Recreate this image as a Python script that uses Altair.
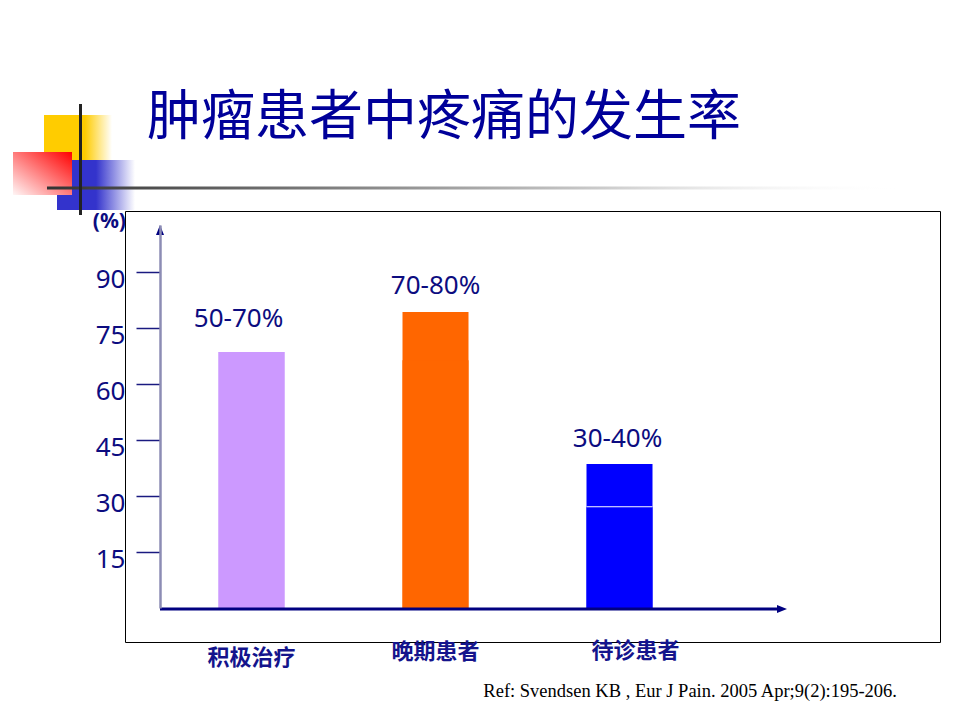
import altair as alt
import pandas as pd

# ---------------- data ----------------
categories = ["积极治疗", "晚期患者", "待诊患者"]
lower_values = [68.6, 66.4, 27.1]   # top of lower stacked segment (%)
upper_values = [68.6, 79.3, 38.6]   # top of bar (%)
range_labels = ["50-70%", "70-80%", "30-40%"]
bar_colors = ["#CC99FF", "#FF6600", "#0000FF"]
y_ticks = [15, 30, 45, 60, 75, 90]
title_text = "肿瘤患者中疼痛的发生率"
unit_text = "(%)"
ref_text = "Ref: Svendsen KB , Eur J Pain. 2005 Apr;9(2):195-206."

df = pd.DataFrame({
    "category": categories,
    "lower": lower_values,
    "upper": upper_values,
    "label": range_labels,
})

NAVY = "#0C0C80"
W, H = 627, 383          # plot area
OX, OY = 160, 225        # page position of plot origin


def X(p):
    return alt.value(p - OX)


def Y(p):
    return alt.value(p - OY)


one = alt.Data(values=[{"k": 1}])


def grad(stops, x1=0, y1=0, x2=1, y2=0):
    return alt.LinearGradient(
        gradient="linear",
        stops=[alt.GradientStop(color=c, offset=o) for o, c in stops],
        x1=x1, y1=y1, x2=x2, y2=y2,
    )


x_enc = alt.X(
    "category:N", sort=categories,
    scale=alt.Scale(domain=categories, range=[45.5, 505.5], paddingInner=0.5, paddingOuter=0),
    axis=None,
)
y_scale = alt.Scale(domain=[0, 102.6], nice=False)
y_axis = alt.Axis(
    values=y_ticks, grid=False, title="", zindex=2,
    tickSize=24, tickColor="#1A1A80", tickWidth=1.5,
    domainColor="#8C8CB4", domainWidth=2.5,
    labelFont="Noto Sans", labelFontSize=26, labelColor=NAVY,
    labelPadding=11, labelOffset=7, labelFlush=False, labelOverlap=False,
)


def yq(field):
    return alt.Y(field, type="quantitative", scale=y_scale, axis=y_axis, title="")


# ---------------- decorations ----------------
box = alt.Chart(one).mark_rect(fill="white", stroke="black", strokeWidth=1).encode(
    x=X(125.5), x2=X(940.5), y=Y(211.5), y2=Y(642.5))

yellow = alt.Chart(one).mark_rect(
    fill=grad([(0, "#FFCC00"), (0.6, "#FFCC00"), (1, "rgba(255,204,0,0)")])
).encode(x=X(44), x2=X(112), y=Y(115), y2=Y(160))

blue_sq = alt.Chart(one).mark_rect(
    fill=grad([(0, "#3333CC"), (0.5, "#3333CC"), (1, "rgba(51,51,204,0)")])
).encode(x=X(57), x2=X(135), y=Y(160), y2=Y(210))

red_sq = alt.Chart(one).mark_rect(
    fill=grad([(0, "#FF0000"), (1, "#FFF6F6")], x1=1, y1=0, x2=0, y2=1)
).encode(x=X(13), x2=X(72), y=Y(152), y2=Y(195))

hline = alt.Chart(one).mark_rect(
    fill=grad([(0, "#333333"), (0.3, "#777777"), (0.65, "#CCCCCC"), (1, "rgba(255,255,255,0)")])
).encode(x=X(47), x2=X(905), y=Y(186.5), y2=Y(189.5))

vline = alt.Chart(one).mark_rect(color="#222222").encode(
    x=X(79), x2=X(82), y=Y(104), y2=Y(215))

title = alt.Chart(one).mark_text(
    text=title_text, font="Noto Sans CJK SC", fontSize=54, color="#000099",
    align="left", baseline="middle",
).encode(x=X(147), y=Y(119))

unit = alt.Chart(one).mark_text(
    text=unit_text, font="Noto Sans", fontWeight="bold", fontSize=21, color=NAVY,
    align="right", baseline="middle",
).encode(x=X(126), y=Y(222))

ref = alt.Chart(one).mark_text(
    text=ref_text, font="Liberation Serif", fontSize=18.5, color="black",
    align="right", baseline="alphabetic",
).encode(x=X(897), y=Y(697))

# ---------------- bars ----------------
color_enc = alt.Color("category:N", scale=alt.Scale(domain=categories, range=bar_colors), legend=None)

bars_full = alt.Chart(df).mark_bar(size=66).encode(
    x=x_enc, y=yq("upper"), y2=alt.value(H), color=color_enc,
)

bars_lower = alt.Chart(df).mark_bar(size=66).encode(
    x=x_enc, y=yq("lower"), y2=alt.value(H), color=color_enc,
)

sep = alt.Chart(df).transform_filter(alt.datum.category == categories[2]).mark_tick(
    color="white", thickness=1, size=66, opacity=1
).encode(x=x_enc, y=yq("lower"))

# ---------------- axis lines & arrows ----------------
x_axis = alt.Chart(one).mark_rule(color="#000080", strokeWidth=3).encode(
    x=X(160), x2=X(779), y=Y(609))

x_arrow = alt.Chart(one).mark_point(
    shape="M-1,-0.8L1,0L-1,0.8Z", filled=True, size=100, color="#000080", opacity=1
).encode(x=X(782), y=Y(609))

y_arrow = alt.Chart(one).mark_point(
    shape="M-0.8,1L0,-1L0.8,1Z", filled=True, size=100, color="#000080", opacity=1
).encode(x=X(160), y=Y(230))

# ---------------- labels ----------------
value_offsets = [(-13, -25), (0, -18), (-2, -17)]
value_labels = [
    alt.Chart(df).transform_filter(alt.datum.category == cat).mark_text(
        dx=dx, dy=dy, baseline="alphabetic", font="Noto Sans", fontSize=26, color=NAVY
    ).encode(x=x_enc, y=yq("upper"), text="label:N")
    for cat, (dx, dy) in zip(categories, value_offsets)
]

cat_offsets = [(0, 658), (0, 652), (16, 651)]
cat_labels = [
    alt.Chart(df).transform_filter(alt.datum.category == cat).mark_text(
        dx=dx, baseline="middle", font="Noto Sans CJK SC", fontWeight="bold",
        fontSize=22, color="#14148C"
    ).encode(x=x_enc, y=Y(yc), text="category:N")
    for cat, (dx, yc) in zip(categories, cat_offsets)
]

chart = alt.layer(
    box, yellow, blue_sq, red_sq, hline, vline, title, unit, ref,
    bars_full, bars_lower, sep, x_axis, x_arrow, y_arrow,
    *value_labels, *cat_labels,
).properties(
    width=W, height=H,
    padding={"left": 152, "top": 217, "right": 165, "bottom": 104},
    autosize=alt.AutoSizeParams(type="none"),
    background="white",
).configure_view(strokeWidth=0)

chart.save("out.html", embed_options={"renderer": "svg", "actions": False})
